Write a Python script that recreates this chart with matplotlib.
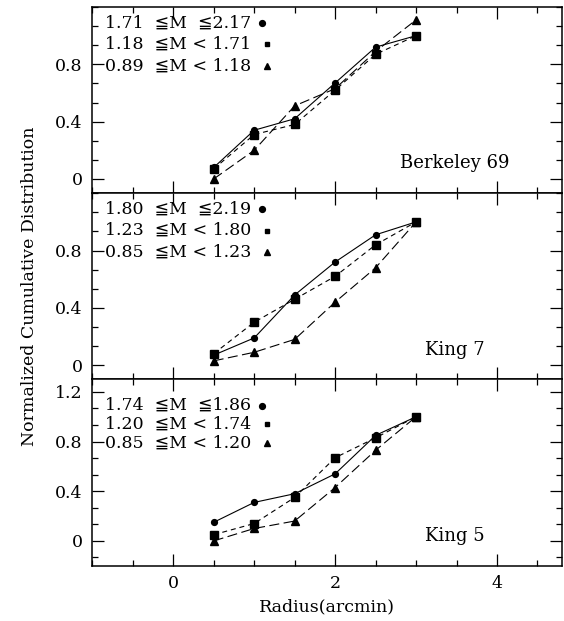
import numpy as np
import matplotlib
matplotlib.use('Agg')
import matplotlib.pyplot as plt
from matplotlib.ticker import FixedLocator, MultipleLocator, FuncFormatter

plt.rcParams['font.family'] = ['DejaVu Serif', 'DejaVu Sans']
plt.rcParams['font.size'] = 12

radius = [0.5, 1.0, 1.5, 2.0, 2.5, 3.0]

# Berkeley 69
be69_hi = [0.08, 0.34, 0.42, 0.67, 0.92, 1.00]
be69_mid = [0.07, 0.31, 0.38, 0.62, 0.87, 1.00]
be69_lo = [0.00, 0.20, 0.51, 0.63, 0.89, 1.11]
be69_labels = ['1.71  \u2266M  \u22662.17', '1.18  \u2266M < 1.71', '0.89  \u2266M < 1.18']

# King 7
king7_hi = [0.07, 0.19, 0.49, 0.72, 0.91, 1.00]
king7_mid = [0.08, 0.30, 0.46, 0.62, 0.84, 1.00]
king7_lo = [0.03, 0.09, 0.18, 0.44, 0.68, 1.00]
king7_labels = ['1.80  \u2266M  \u22662.19', '1.23  \u2266M < 1.80', '0.85  \u2266M < 1.23']

# King 5
king5_hi = [0.15, 0.31, 0.38, 0.54, 0.85, 1.00]
king5_mid = [0.05, 0.14, 0.35, 0.67, 0.83, 1.00]
king5_lo = [0.00, 0.10, 0.16, 0.43, 0.73, 1.00]
king5_labels = ['1.74  \u2266M  \u22661.86', '1.20  \u2266M < 1.74', '0.85  \u2266M < 1.20']

panels = [
    ('Berkeley 69', be69_hi, be69_mid, be69_lo, be69_labels, (-0.1, 1.2), [0, 0.4, 0.8], 0.655),
    ('King 7', king7_hi, king7_mid, king7_lo, king7_labels, (-0.1, 1.2), [0, 0.4, 0.8], 0.709),
    ('King 5', king5_hi, king5_mid, king5_lo, king5_labels, (-0.2, 1.3), [0, 0.4, 0.8, 1.2], 0.708),
]

styles = [
    dict(marker='o', ms=4.2, ls='-'),
    dict(marker='s', ms=5.3, ls=(0, (4.5, 3.5))),
    dict(marker='^', ms=5.8, ls=(0, (9, 4))),
]
leg_ms = [4.2, 3.5, 4]

fig, axes = plt.subplots(3, 1, figsize=(5.64, 6.21), dpi=100, sharex=True)
fig.subplots_adjust(left=0.1637, right=0.996, bottom=0.089, top=0.9887, hspace=0)

fmt = FuncFormatter(lambda v, p: '%g' % round(v, 2))

for ax, (name, hi, mid, lo, labels, ylim, yt, lx) in zip(axes, panels):
    for y, st in zip([hi, mid, lo], styles):
        ax.plot(radius, y, color='black', lw=0.8, mfc='black', mec='black', **st)

    # legend-like text block
    for i, (lab, st) in enumerate(zip(labels, styles)):
        yy = [1.09, 0.94, 0.79][i]
        ax.text(0.96, yy, lab, ha='right', va='center', fontsize=12.5)
        ax.plot([1.1 if i == 0 else 1.16], [yy], marker=st['marker'], ms=leg_ms[i],
                color='black', ls='none')

    ax.text(lx, 0.16, name, transform=ax.transAxes, ha='left', va='center', fontsize=13)

    ax.set_xlim(-1, 4.8)
    ax.set_ylim(*ylim)
    ax.yaxis.set_major_locator(FixedLocator(yt))
    ax.yaxis.set_minor_locator(MultipleLocator(0.4 / 3))
    ax.yaxis.set_major_formatter(fmt)
    ax.xaxis.set_major_locator(MultipleLocator(2))
    ax.xaxis.set_minor_locator(MultipleLocator(0.5))
    ax.xaxis.set_major_formatter(fmt)
    ax.tick_params(which='both', direction='in', top=True, right=True, width=0.9)
    ax.tick_params(which='major', length=8.5, pad=7, labelsize=12.5)
    ax.tick_params(which='minor', length=4.3)
    for sp in ax.spines.values():
        sp.set_linewidth(1.1)

fig.text(0.053, 0.539, 'Normalized Cumulative Distribution', rotation=90,
         ha='center', va='center', fontsize=12.5)
axes[-1].set_xlabel('Radius(arcmin)', fontsize=12.5, labelpad=4)

fig.savefig('out.png', dpi=100)
